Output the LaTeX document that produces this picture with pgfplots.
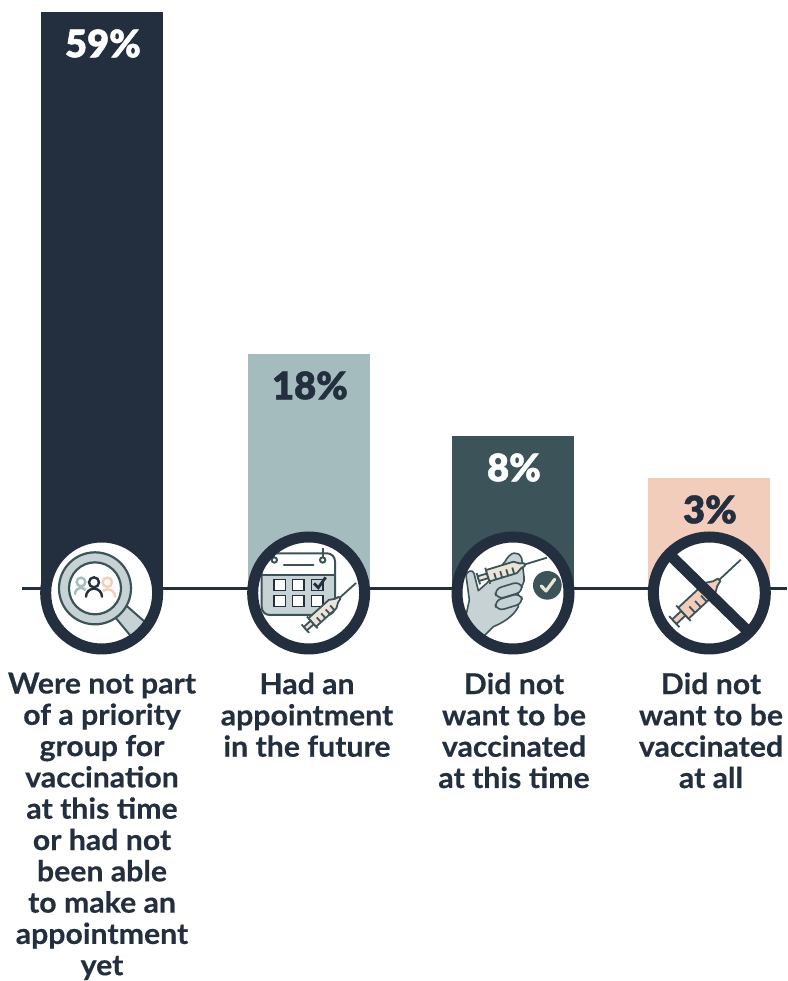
\documentclass[border=0pt]{standalone}
\usepackage{fontspec}
\setmainfont{Lato}[BoldFont=Lato Bold,BoldFeatures={FakeStretch=1.05,FakeBold=0.4}]
\newfontfamily\pctfont{Lato Black}[FakeBold=1.2]
\usepackage{pgfplots}
\pgfplotsset{compat=1.18}
\definecolor{navy}{HTML}{232E3E}
\definecolor{sage}{HTML}{A5BCBF}
\definecolor{teal}{HTML}{3C5459}
\definecolor{peach}{HTML}{F3CDBB}
\definecolor{mist}{HTML}{C6D2D3}
\definecolor{cream}{HTML}{EDE4D8}

% syringe lying along +x, from plunger end to needle tip
\newcommand{\syringe}[5]{% x, y, angle, fill, scale
\begin{scope}[shift={(#1,#2)},rotate=#3,scale=#5,line width=1.8pt,draw=teal,line join=round]
  \draw (0,-17)--(0,17);
  \draw[fill=#4] (0,-7) rectangle (28,7);
  \draw (28,-24)--(28,24);
  \draw[fill=#4] (28,-17)--(110,-17)--(126,-7)--(138,-4)--(138,4)--(126,7)--(110,17)--(28,17)--cycle;
  \foreach \t in {48,66,84,102} \draw (\t,17)--(\t,-2);
  \draw (138,0)--(205,0);
\end{scope}}

\begin{document}
\begin{tikzpicture}
\path[use as bounding box] (0,0) rectangle (787pt,981pt);
\begin{axis}[
  at={(0,0)},anchor=south west,
  scale only axis,width=787pt,height=981pt,
  xmin=0,xmax=787,ymin=-393,ymax=588,
  axis x line=middle,axis y line=none,
  axis line style={draw=none},
  major tick length=0pt,
  xtick={102,307,514,711},
  xticklabels={
    {Were not part\\of a priority\\group for\\vaccination\\at this time\\or had not\\been able\\to make an\\appointment\\yet},
    {Had an\\appointment\\in the future},
    {Did not\\want to be\\vaccinated\\at this time},
    {Did not\\want to be\\vaccinated\\at all}},
  xticklabel style={anchor=north,align=center,inner sep=0pt,yshift=-84.5pt,
    font=\fontsize{28.8}{31.3}\selectfont\bfseries,text=navy},
  ybar,bar width=122pt,bar shift=0pt,
  point meta=explicit symbolic,
  nodes near coords={\pgfplotspointmeta\%},
  every node near coord/.append style={anchor=center,yshift=-31.5pt,xshift=1pt,
    font=\fontsize{38}{38}\selectfont\pctfont},
]
\addplot[draw=none,fill=navy,nodes near coords style={text=white}] coordinates {(102,576)[59]};
\addplot[draw=none,fill=sage,nodes near coords style={text=navy}] coordinates {(309,234)[18]};
\addplot[draw=none,fill=teal,nodes near coords style={text=white}] coordinates {(513,152)[8]};
\addplot[draw=none,fill=peach,nodes near coords style={text=navy}] coordinates {(709,110)[3]};
\end{axis}
% baseline and icon medallions, coordinates read off the reference crops
\draw[navy,line width=2.4pt] (22pt,392.5pt)--(787pt,392.5pt);

\begin{scope}[x=1pt/3,y=-1pt/3,shift={(20pt,461pt)}]
  \fill[white] (245,219) circle (168);
  \begin{scope}
    \clip (245,219) circle (160);
    \draw[teal,line width=2pt,fill=mist,line join=round] (318,256)--(400,328)--(352,372)--(284,290)--cycle;
  \end{scope}
  \draw[teal,line width=2.2pt,fill=mist] (225,205) circle (108);
  \draw[teal,line width=2.2pt,fill=white] (225,205) circle (78);
  \begin{scope}[line width=2.4pt,line cap=round]
    \draw[sage] (183,186) circle (13);
    \draw[sage] (165,222) arc[start angle=180,end angle=320,radius=18];
    \draw[peach] (262,187) circle (14);
    \draw[peach] (285,230) arc[start angle=360,end angle=220,radius=22];
    \draw[white,line width=5pt] (198,230) arc[start angle=180,end angle=360,radius=24];
    \draw[navy] (222,187) circle (15);
    \draw[navy] (198,230) arc[start angle=180,end angle=360,radius=24];
  \end{scope}
  \draw[navy,line width=11pt] (245,219) circle (168);

  \fill[white] (866,219) circle (168);
  \begin{scope}
    \clip[rounded corners=8pt] (725,100) rectangle (945,285);
    \fill[mist] (725,165) rectangle (945,285);
  \end{scope}
  \draw[teal,line width=2pt,rounded corners=8pt] (725,100) rectangle (945,285);
  \draw[teal,line width=2pt] (725,165)--(945,165);
  \draw[teal,line width=2.2pt,line cap=round] (792,135)--(880,135);
  \foreach \p in {763,908} {\draw[teal,line width=2pt,fill=white] (\p,120) circle (8);}
  \draw[teal,line width=2pt] (908,112)--(908,85);
  \draw[teal,line width=2pt] (763,112)--(763,100);
  \foreach \a/\b in {762/178,818/178,762/226,818/226,875/226}
    \draw[navy,line width=1.4pt,fill=white] (\a,\b) rectangle ++(34,33);
  \draw[navy,line width=1.4pt,fill=mist] (875,178) rectangle ++(34,33);
  \draw[navy,line width=2.8pt] (882,190)--(895,203)--(917,172);
  \syringe{856}{326}{42}{cream}{1}
  \draw[navy,line width=11pt] (866,219) circle (168);
\end{scope}

\begin{scope}[x=1pt/3,y=-1pt/3,shift={(430pt,461pt)}]
  \fill[white] (249,219) circle (168);
  \begin{scope}
    \clip (249,219) circle (160);
    \draw[teal,line width=1.6pt,fill=mist,line join=round]
      (105,300)--(118,240)--(108,165)..controls (112,152) and (128,148)..(132,160)
      --(145,212)--(170,190)--(225,125)..controls (240,95) and (265,90)..(275,115)
      --(282,170)..controls (285,190) and (275,200)..(265,205)--(265,260)
      ..controls (250,290) and (215,310)..(190,320)--(150,360)--(100,340)--cycle;
  \end{scope}
  \syringe{145}{176}{17}{cream}{1.05}
  \foreach \a/\b in {205/210,205/245}
    \draw[teal,line width=1.6pt,fill=mist,rotate around={17:(\a+35,\b)},rounded corners=7pt] (\a-10,\b-16) rectangle (\a+72,\b+16);
  \fill[teal] (352,196) circle (43);
  \draw[cream,line width=3.2pt,line cap=round,line join=round] (334,198)--(348,213)--(374,178);
  \draw[navy,line width=11pt] (249,219) circle (168);

  \fill[white] (838,219) circle (168);
  \syringe{733}{305}{43}{peach}{1.33}
  \draw[navy,line width=11pt] (720,105)--(955,335);
  \draw[navy,line width=11pt] (838,219) circle (168);
\end{scope}
\end{tikzpicture}
\end{document}
